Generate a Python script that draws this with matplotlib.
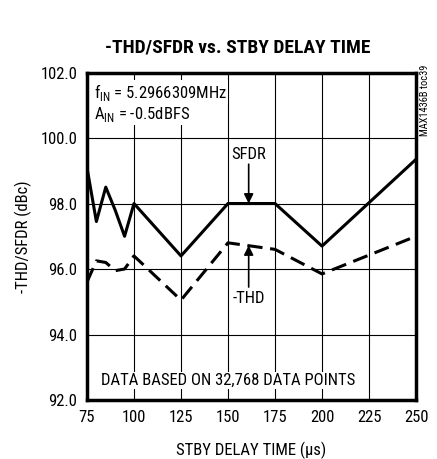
import numpy as np
from matplotlib import pyplot as plt

plt.rcParams['font.family'] = ['Roboto Condensed', 'DejaVu Sans']
plt.rcParams['mathtext.fontset'] = 'custom'
plt.rcParams['mathtext.rm'] = 'Roboto Condensed'

# STBY delay time (us) and measured values (dBc)
delay = [75, 80, 85, 90, 95, 100, 125, 150, 175, 200, 250]
sfdr = [99.1, 97.45, 98.5, 97.8, 97.0, 98.0, 96.4, 98.0, 98.0, 96.7, 99.35]
thd = [95.6, 96.25, 96.2, 95.95, 96.0, 96.4, 95.05, 96.8, 96.6, 95.85, 97.0]

xticks = [75, 100, 125, 150, 175, 200, 225, 250]
yticks = [92.0, 94.0, 96.0, 98.0, 100.0, 102.0]

fs = 12

fig = plt.figure(figsize=(4.37, 4.59), dpi=100)
ax = fig.add_axes([0.199, 0.1285, 0.753, 0.7135])

ax.plot(delay, sfdr, color='k', linewidth=2.2)
ax.plot(delay, thd, color='k', linewidth=2.2, dashes=(5, 2.5))

ax.set_xlim(75, 250)
ax.set_ylim(92, 102)
ax.set_xticks(xticks)
ax.set_yticks(yticks)
ax.set_yticklabels(['%.1f' % v for v in yticks])
ax.grid(True, color='k', linewidth=0.8)
ax.tick_params(length=0, labelsize=fs, pad=7)
for s in ax.spines.values():
    s.set_linewidth(2.5)

ax.set_xlabel('STBY DELAY TIME (\u00b5s)', fontsize=fs, labelpad=12)
ax.set_ylabel('-THD/SFDR (dBc)', fontsize=fs, labelpad=6)
fig.text(0.543, 0.897, '-THD/SFDR vs. STBY DELAY TIME', ha='center', va='center',
         fontsize=14, fontweight='heavy')
fig.text(0.972, 0.782, 'MAX1436B toc39', rotation=90, ha='center', va='center', fontsize=7.5)

# annotations
ax.text(78.5, 101.4, r'f$_{\mathrm{IN}}$ = 5.2966309MHz', fontsize=fs, va='center',
        bbox=dict(facecolor='white', edgecolor='none', pad=1))
ax.text(78.5, 100.72, r'A$_{\mathrm{IN}}$ = -0.5dBFS', fontsize=fs, va='center',
        bbox=dict(facecolor='white', edgecolor='none', pad=1))
ax.text(161, 99.5, 'SFDR', fontsize=fs, ha='center', va='center',
        bbox=dict(facecolor='white', edgecolor='none', pad=1))
ax.annotate('', xy=(161, 98.0), xytext=(161, 99.2),
            arrowprops=dict(arrowstyle='-|>', color='k', lw=1.2, mutation_scale=14,
                            shrinkA=0, shrinkB=0))
ax.text(161, 95.1, '-THD', fontsize=fs, ha='center', va='center',
        bbox=dict(facecolor='white', edgecolor='none', pad=1))
ax.annotate('', xy=(161, 96.72), xytext=(161, 95.45),
            arrowprops=dict(arrowstyle='-|>', color='k', lw=1.2, mutation_scale=14,
                            shrinkA=0, shrinkB=0))
ax.text(150, 92.6, 'DATA BASED ON 32,768 DATA POINTS', fontsize=fs, ha='center',
        va='center', bbox=dict(facecolor='white', edgecolor='none', pad=1))

plt.savefig('out.png', dpi=100)
